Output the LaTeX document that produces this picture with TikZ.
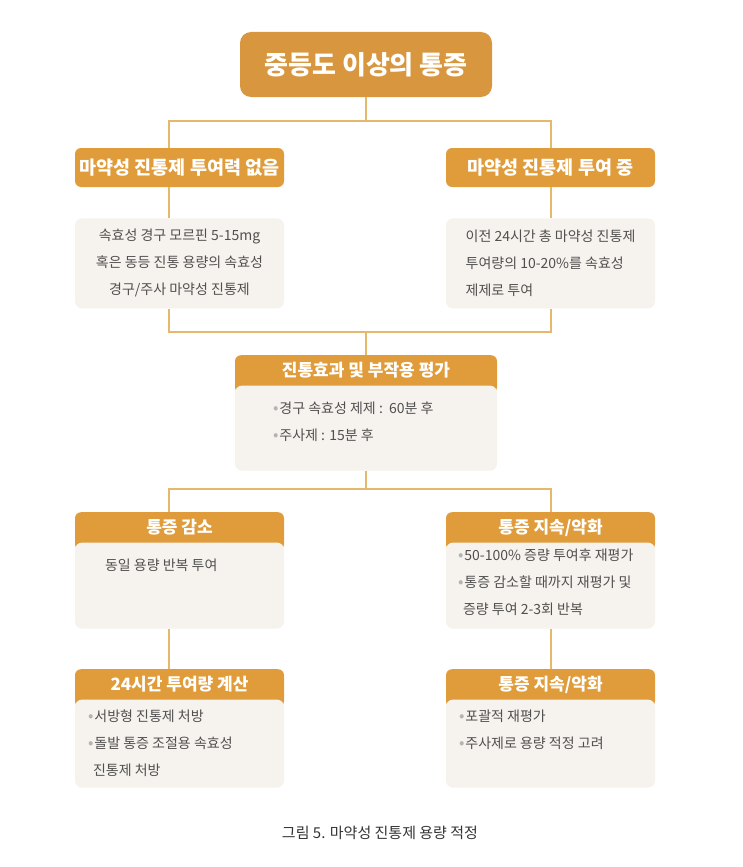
\documentclass[tikz,border=0pt]{standalone}
\usepackage{fontspec}
\setmainfont{Noto Sans CJK KR}
\usetikzlibrary{positioning}

\definecolor{topor}{HTML}{D8963E}
\definecolor{heador}{HTML}{E09C3A}
\definecolor{bodybg}{HTML}{F6F2ED}
\definecolor{linec}{HTML}{E5B86C}
\definecolor{textc}{HTML}{505050}
\definecolor{dotc}{HTML}{B4B4B4}
\definecolor{capc}{HTML}{333333}

\newcommand{\bul}{{\color{dotc}\fontsize{16}{16}\selectfont •}\hspace{1pt}}

\begin{document}
\begin{tikzpicture}[x=1pt, y=-1pt,
        topbox/.style={fill=topor, rounded corners=11pt, minimum width=252pt, minimum height=65pt, text=white, font=\fontsize{26}{30}\selectfont\bfseries},
        headbox/.style={fill=heador, rounded corners=6pt, minimum width=209pt, minimum height=39pt, text=white, font=\fontsize{18.5}{23}\selectfont\bfseries},
        tabhead/.style={fill=heador, rounded corners=6pt, anchor=north, minimum width=209pt, minimum height=38pt, text height=14pt, text depth=9pt, text=white, font=\fontsize{17}{20}\selectfont\bfseries},
        bodybox/.style={fill=bodybg, rounded corners=7pt, minimum width=209pt, text=textc, font=\fontsize{14}{27}\selectfont},
        bodytext/.style={inner sep=0pt, align=left, text=textc, font=\fontsize{14}{27}\selectfont},
        conn/.style={draw=linec, line width=1.2pt}
    ]
        \useasboundingbox (0,0) rectangle (743,867);

        % top
        \node[topbox] (pain) at (366,64.5) {중등도 이상의 통증};
        \node[headbox] (naive) at (179.5,167.5) {마약성 진통제 투여력 없음};
        \node[headbox] (opioid) at (550.5,167.5) {마약성 진통제 투여 중};
        \node[bodybox, minimum height=90pt, align=center, below=31pt of naive] (naivebody)
            {속효성 경구 모르핀 5-15mg\\혹은 동등 진통 용량의 속효성\\경구/주사 마약성 진통제};
        \node[bodybox, minimum height=90pt, align=left, below=31pt of opioid] (opioidbody)
            {이전 24시간 총 마약성 진통제\\투여량의 10-20\%를 속효성\\제제로 투여};

        % evaluation
        \node[tabhead, minimum width=262pt] (evalhead) at (366,355) {진통효과 및 부작용 평가};
        \node[bodybox, minimum width=262pt, minimum height=85pt, below=-8pt of evalhead] (evalbody) {};
        \node[bodytext, below right=16pt and 38pt of evalbody.north west] (evaltext)
            {\bul 경구 속효성 제제 :\ \ 60분 후\\\bul 주사제 : 15분 후};

        % third row
        \node[tabhead] (lesshead) at (179.5,512) {통증 감소};
        \node[bodybox, minimum height=86pt, below=-8pt of lesshead] (lessbody) {};
        \node[bodytext, below right=16pt and 30pt of lessbody.north west] (lesstext) {동일 용량 반복 투여};
        \node[tabhead] (worsehead) at (550.5,512) {통증 지속/악화};
        \node[bodybox, minimum height=86pt, below=-8pt of worsehead] (worsebody) {};
        \node[bodytext, below right=6pt and 12pt of worsebody.north west] (worsetext)
            {\bul 50-100\% 증량 투여후 재평가\\\bul 통증 감소할 때까지 재평가 및\\\hspace{5pt}증량 투여 2-3회 반복};

        % fourth row
        \node[tabhead] (dosehead) at (179.5,669) {24시간 투여량 계산};
        \node[bodybox, minimum height=88pt, below=-8pt of dosehead] (dosebody) {};
        \node[bodytext, below right=10pt and 13pt of dosebody.north west] (dosetext)
            {\bul 서방형 진통제 처방\\\bul 돌발 통증 조절용 속효성\\\hspace{5pt}진통제 처방};
        \node[tabhead] (againhead) at (550.5,669) {통증 지속/악화};
        \node[bodybox, minimum height=88pt, below=-8pt of againhead] (againbody) {};
        \node[bodytext, below right=10pt and 13pt of againbody.north west] (againtext)
            {\bul 포괄적 재평가\\\bul 주사제로 용량 적정 고려};

        \node[font=\fontsize{15}{18}\selectfont, text=capc] (caption) at (380,833) {그림 5. 마약성 진통제 용량 적정};

        % connectors
        \coordinate (forkL) at (169,121);
        \coordinate (forkR) at (551,121);
        \coordinate (joinL) at (169,332);
        \coordinate (joinR) at (551,332);
        \coordinate (splitL) at (169,489);
        \coordinate (splitR) at (551,489);
        \draw[conn] (pain.south) -- (pain.south |- forkL);
        \draw[conn] (forkL |- naive.north) -- (forkL) -- (forkR) -- (forkR |- opioid.north);
        \draw[conn] (naive.south -| forkL) -- (naivebody.north -| forkL);
        \draw[conn] (opioid.south -| forkR) -- (opioidbody.north -| forkR);
        \draw[conn] (naivebody.south -| joinL) -- (joinL) -- (joinR) -- (opioidbody.south -| joinR);
        \draw[conn] (evalhead.north) -- (evalhead.north |- joinL);
        \draw[conn] (evalbody.south) -- (evalbody.south |- splitL);
        \draw[conn] (splitL |- lesshead.north) -- (splitL) -- (splitR) -- (splitR |- worsehead.north);
        \draw[conn] (lessbody.south -| splitL) -- (dosehead.north -| splitL);
        \draw[conn] (worsebody.south -| splitR) -- (againhead.north -| splitR);
    \end{tikzpicture}
\end{document}
